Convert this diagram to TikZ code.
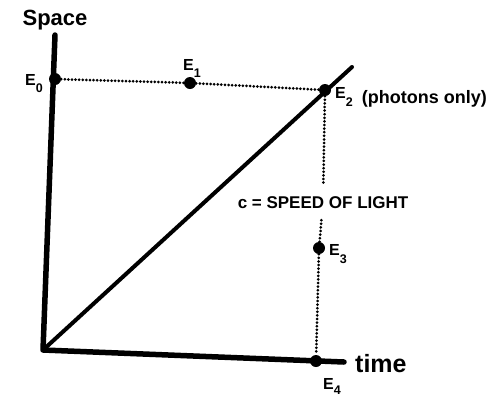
\documentclass[tikz,border=0pt]{standalone}
\usepackage{fontspec}
\setmainfont{Liberation Sans}
\newcommand\ev[2][-8pt]{E\raisebox{#1}{\fontsize{12.5}{12.5}\selectfont #2}}
\tikzset{
    axis/.style={line width=5.5pt, line cap=round, line join=round},
    worldline/.style={line width=4pt, line cap=round},
    dotline/.style={line width=3pt, line cap=round, dash pattern=on 0pt off 3.6pt},
    event/.style={circle, fill=black, inner sep=0pt, minimum size=12pt},
    elabel/.style={font=\bfseries\fontsize{16}{16}\selectfont, inner sep=0pt}
}
\begin{document}
\begin{tikzpicture}[x=1pt, y=-1pt]
    \useasboundingbox (0,0) rectangle (494,400);
    \coordinate (top) at (55,35);
    \coordinate (origin) at (43,350);
    \coordinate (tend) at (344,362);
    \coordinate (ltip) at (352,67);
    \node[font=\bfseries\fontsize{22}{22}\selectfont, anchor=base, inner sep=0pt] (spacelab) at (55,25) {Space};
    \node[font=\bfseries\fontsize{25}{25}\selectfont, anchor=base west, inner sep=0pt] (timelab) at (355,372) {time};
    \draw[axis] (top) -- (origin) -- (tend);
    \draw[worldline] (origin) -- (ltip);
    \node[event] (e0) at (55,79) {};
    \node[event] (e1) at (190,83) {};
    \node[event] (e2) at (325,90) {};
    \node[event] (e3) at (319,248) {};
    \node[event] (e4) at (316,361) {};
    \node[font=\bfseries\fontsize{17}{17}\selectfont, inner xsep=2pt, inner ysep=11pt] (light) at (323,203) {c = SPEED OF LIGHT};
    \draw[dotline] (e0) -- (e1) -- (e2);
    \draw[dotline] (e2) -- (light);
    \draw[dotline] (light) -- (e3) -- (e4);
    \node[elabel, anchor=base east] (e0lab) at (43,85) {\ev[-7pt]{0}};
    \node[elabel, anchor=base west] (e1lab) at (183,70) {\ev[-7pt]{1}};
    \node[elabel, anchor=base west] (e2lab) at (335,98) {\ev{2}\hspace{9pt}\raisebox{-5pt}{\fontsize{18}{18}\selectfont (photons only)}};
    \node[elabel, anchor=base west] (e3lab) at (329,255) {\ev{3}};
    \node[elabel, anchor=base west] (e4lab) at (323,389) {\ev[-5pt]{4}};
\end{tikzpicture}
\end{document}
